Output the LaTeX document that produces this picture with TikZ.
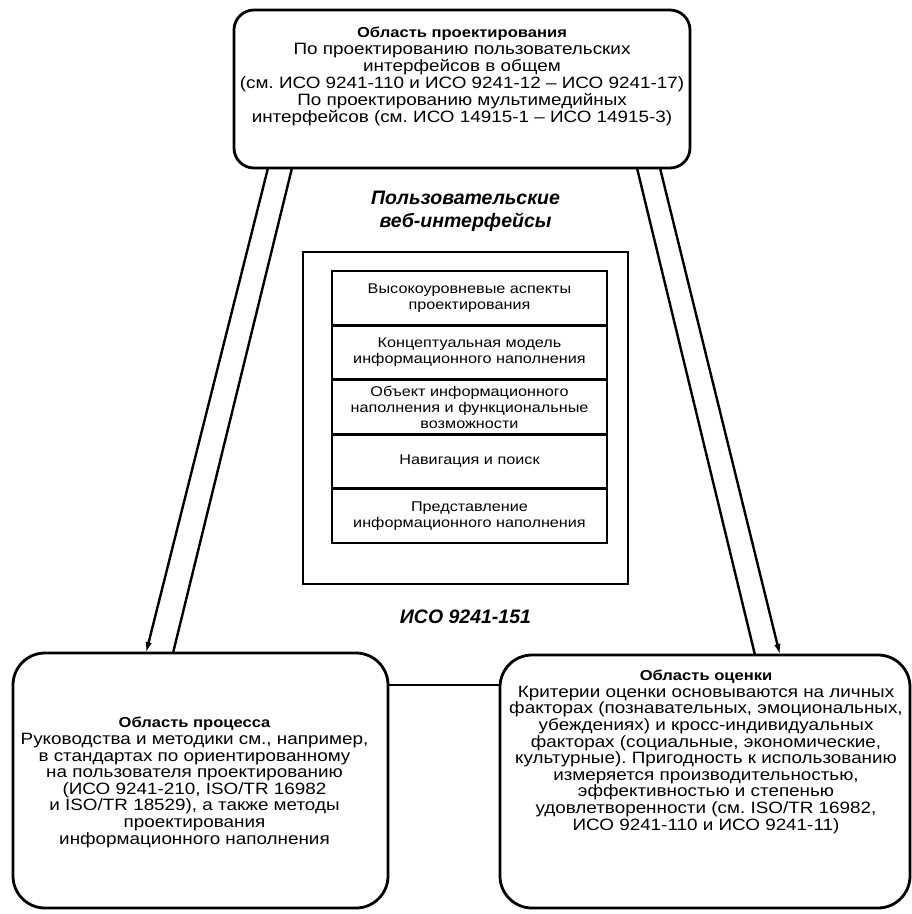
\documentclass[tikz,border=0pt]{standalone}
\usepackage{fontspec}
\setmainfont{Liberation Sans}
\newfontfamily\areafont[FakeStretch=1.15]{Liberation Sans}
\usetikzlibrary{positioning,calc,arrows.meta}
\frenchspacing

\begin{document}
\begin{tikzpicture}[x=1pt, y=1pt,
    areanode/.style={draw, line width=2.8pt, rounded corners=32pt, outer sep=0pt, inner sep=0pt},
    layernode/.style={draw, line width=2.8pt, outer sep=0pt, minimum width=275pt, minimum height=54.4pt, align=center, inner sep=2pt, font=\areafont\fontsize{14.1}{16}\selectfont},
    bodytext/.style={align=center, inner sep=0pt, font=\areafont\fontsize{16.4}{16.6}\selectfont},
    captiontext/.style={align=center, inner sep=0pt, font=\fontsize{19.5}{23}\selectfont\bfseries\itshape},
    link/.style={line width=2.4pt},
    >={Latex[length=11pt,width=6.5pt]}]
    \useasboundingbox (0,0) rectangle (912,-914);
    % three areas
    \node[areanode, rounded corners=20pt, minimum width=456pt, minimum height=158pt] (designArea) at (462,-89) {};
    \node[areanode, minimum width=375pt, minimum height=255pt] (processArea) at (200.5,-780.5) {};
    \node[areanode, minimum width=410pt, minimum height=253pt] (evalArea) at (705,-781.5) {};
    \node[bodytext, font=\areafont\fontsize{16.4}{17}\selectfont, below=17pt of designArea.north] (designText) {{\fontsize{14.4}{17}\selectfont\bfseries Область проектирования}\\По проектированию пользовательских\\интерфейсов в общем\\(см. ИСО 9241-110 и ИСО 9241-12 – ИСО 9241-17)\\По проектированию мультимедийных\\интерфейсов (см. ИСО 14915-1 – ИСО 14915-3)};
    \node[bodytext] (processText) at ($(processArea.center)+(-6,-2)$) {{\fontsize{14.4}{16.6}\selectfont\bfseries Область процесса}\\Руководства и методики см., например,\\в стандартах по ориентированному\\на пользователя проектированию\\(ИСО 9241-210, ISO/TR 16982\\и ISO/TR 18529), а также методы\\проектирования\\информационного наполнения};
    \node[bodytext, below=15pt of evalArea.north, xshift=1pt] (evalText) {{\fontsize{14.4}{16.6}\selectfont\bfseries Область оценки}\\Критерии оценки основываются на личных\\факторах (познавательных, эмоциональных,\\убеждениях) и кросс-индивидуальных\\факторах (социальные, экономические,\\культурные). Пригодность к использованию\\измеряется производительностью,\\эффективностью и степенью\\удовлетворенности (см. ISO/TR 16982,\\ИСО 9241-110 и ИСО 9241-11)};
    % web portal in the middle
    \node[draw, line width=2.8pt, outer sep=0pt, minimum width=325pt, minimum height=332pt] (portal) at (465.5,-418) {};
    \node[captiontext, above=20pt of portal] (webLabel) {Пользовательские\\веб-интерфейсы};
    \node[captiontext, below=26pt of portal] (isoLabel) {ИСО 9241-151};
    \node[layernode] (layerA) at (469.5,-298.2) {Высокоуровневые аспекты\\проектирования};
    \node[layernode, below=0pt of layerA] (layerB) {Концептуальная модель\\информационного наполнения};
    \node[layernode, below=0pt of layerB] (layerC) {Объект информационного\\наполнения и функциональные\\возможности};
    \node[layernode, below=0pt of layerC] (layerD) {Навигация и поиск};
    \node[layernode, below=0pt of layerD] (layerE) {Представление\\информационного наполнения};
    % links between the areas
    \draw[link, ->] ($(designArea.south west)+(34,0)$) -- ($(processArea.north west)+(133,0)$);
    \draw[link] ($(designArea.south west)+(58,0)$) -- ($(processArea.north west)+(160,0)$);
    \draw[link] ($(designArea.south east)+(-53,0)$) -- ($(evalArea.north west)+(255,0)$);
    \draw[link, ->] ($(designArea.south east)+(-30,0)$) -- ($(evalArea.north west)+(280,0)$);
    \draw[link] ($(processArea.north east)+(0,-32)$) -- ($(evalArea.north west)+(0,-30)$);
\end{tikzpicture}
\end{document}
